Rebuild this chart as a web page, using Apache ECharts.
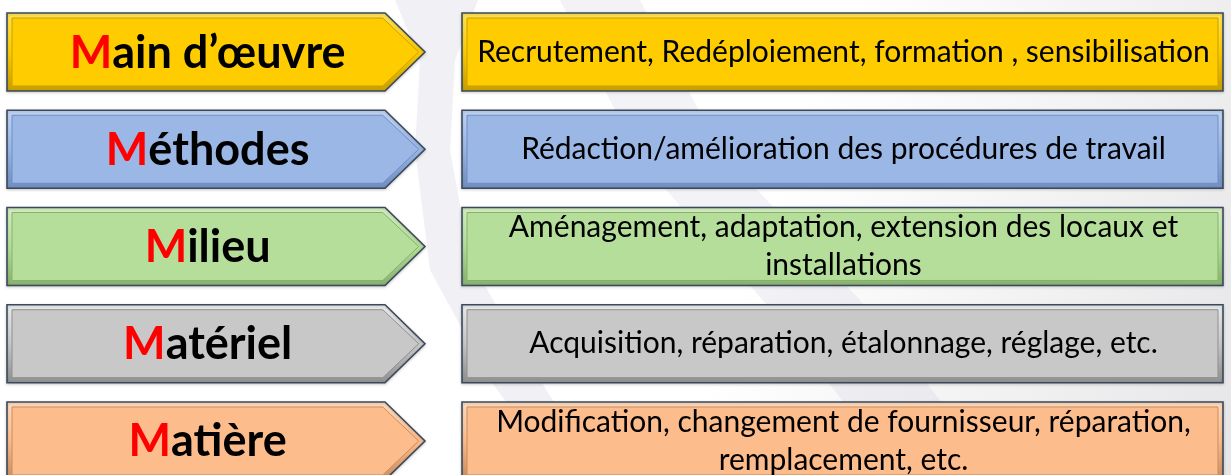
<!DOCTYPE html>
<html>
<head>
<meta charset="utf-8">
<script src="https://cdn.jsdelivr.net/npm/echarts@6/dist/echarts.min.js"></script>
<style>html,body{margin:0;padding:0;background:#fff;}#c{width:1231px;height:475px;}</style>
</head>
<body>
<div id="c"></div>
<script>
// ---- data ----
const categories = ['Main d\u2019\u0153uvre', 'Méthodes', 'Milieu', 'Matériel', 'Matière'];
const actions = [
  'Recrutement, Redéploiement, formation , sensibilisation',
  'Rédaction/amélioration des procédures de travail',
  'Aménagement, adaptation, extension des locaux et\ninstallations',
  'Acquisition, réparation, étalonnage, réglage, etc.',
  'Modification, changement de fournisseur, réparation,\nremplacement, etc.'
];
const palette = ['#FFCC00', '#9BB7E6', '#B4DE9A', '#C8C8C8', '#FDBC8C'];
const lightPalette = ['#FFE45A', '#C4D6F4', '#D6EFC4', '#EDEDED', '#FFDDBE'];
const darkPalette = ['#C89E00', '#6F8DC0', '#86B06C', '#8E8E8E', '#C98C5E'];

const chart = echarts.init(document.getElementById('c'), null, {renderer: 'canvas'});

function renderItem(params, api) {
  const idx = api.value(1);
  const cy = api.coord([0, idx])[1];
  const h = 78;
  const t = cy - h / 2, b = cy + h / 2;
  const x0 = api.coord([7, 0])[0], xs = api.coord([385, 0])[0], xt = api.coord([425, 0])[0];
  const bx0 = api.coord([462, 0])[0], bx1 = api.coord([1223, 0])[0];
  const col = palette[idx], light = lightPalette[idx], dark = darkPalette[idx];
  const edge = '#3A4A5C';
  const d = 5;
  const mkGrad = () => new echarts.graphic.LinearGradient(0, 0, 0, 1, [
    {offset: 0, color: light}, {offset: 0.5, color: col}, {offset: 1, color: dark}
  ]);
  const arrowOuter = [[x0, t], [xs, t], [xt, cy], [xs, b], [x0, b]];
  const arrowInner = [[x0 + d, t + d], [xs - d * 0.45, t + d], [xt - d * 1.25, cy], [xs - d * 0.45, b - d], [x0 + d, b - d]];
  const name = categories[idx];
  const lbl = '{r|' + name.charAt(0) + '}{k|' + name.slice(1) + '}';
  return {
    type: 'group',
    children: [
      {type: 'polygon', shape: {points: arrowOuter},
        style: {fill: mkGrad(), stroke: edge, lineWidth: 1.6, shadowColor: 'rgba(0,0,0,0.18)', shadowBlur: 3, shadowOffsetY: 1}},
      {type: 'polygon', shape: {points: arrowInner},
        style: {fill: col, stroke: dark, lineWidth: 1}},
      {type: 'rect', shape: {x: bx0, y: t, width: bx1 - bx0, height: h},
        style: {fill: mkGrad(), stroke: edge, lineWidth: 1.6, shadowColor: 'rgba(0,0,0,0.18)', shadowBlur: 3, shadowOffsetY: 1}},
      {type: 'rect', shape: {x: bx0 + d, y: t + d, width: bx1 - bx0 - 2 * d, height: h - 2 * d},
        style: {fill: col, stroke: dark, lineWidth: 1}},
      {type: 'text', x: x0 + (xt - x0) * 0.48, y: cy + 1,
        style: {text: lbl, align: 'center', verticalAlign: 'middle',
          rich: {
            r: {fill: '#FF0000', fontFamily: 'Lato', fontWeight: 'bold', fontSize: 45},
            k: {fill: '#000000', fontFamily: 'Lato', fontWeight: 'bold', fontSize: 45}
          }}},
      {type: 'text', x: (bx0 + bx1) / 2 + 1, y: cy,
        style: {text: actions[idx], align: 'center', verticalAlign: 'middle',
          fill: '#000', fontFamily: 'Lato', fontSize: 30, lineHeight: 38}}
    ]
  };
}

chart.setOption({
  animation: false,
  backgroundColor: '#ffffff',
  graphic: [
    {type: 'rect', z: -20, silent: true, shape: {x: 0, y: 0, width: 1231, height: 475},
      style: {fill: new echarts.graphic.LinearGradient(0, 0, 1, 1, [
        {offset: 0, color: '#ffffff'}, {offset: 0.6, color: '#ffffff'}, {offset: 1, color: '#e6e6e8'}])}},
    {type: 'polygon', z: -10, silent: true,
      shape: {points: [[395, 0], [440, 0], [478, 0], [455, 60], [450, 150], [470, 260], [540, 380], [600, 475], [560, 475], [490, 380], [430, 270], [415, 150], [420, 60]]},
      style: {fill: 'rgba(200,195,215,0.25)'}},
    {type: 'polygon', z: -10, silent: true,
      shape: {points: [[560, 0], [640, 0], [720, 150], [860, 300], [1000, 475], [900, 475], [780, 320], [640, 160]]},
      style: {fill: 'rgba(200,195,215,0.22)'}}
  ],
  grid: {left: 0, right: 0, top: 0, bottom: 0, containLabel: false},
  xAxis: {type: 'value', min: 0, max: 1231, show: false},
  yAxis: {type: 'value', min: -0.535, max: 4.35, inverse: true, show: false},
  series: [{
    type: 'custom',
    renderItem: renderItem,
    clip: false,
    encode: {x: 0, y: 1},
    data: categories.map((c, i) => [0, i])
  }]
});
</script>
</body>
</html>
